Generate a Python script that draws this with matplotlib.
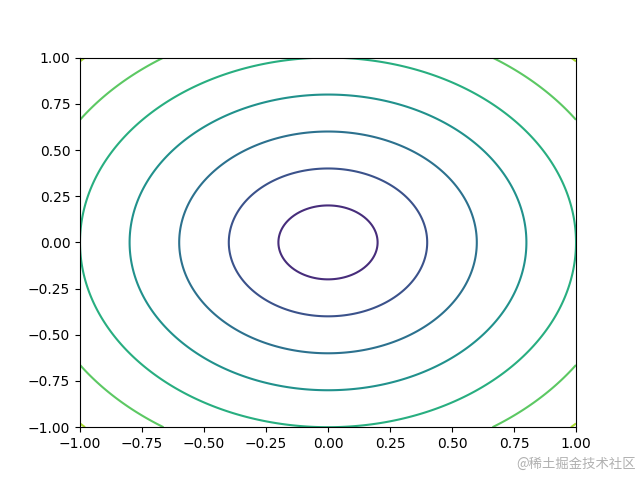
import numpy as np
import matplotlib
matplotlib.use('Agg')
import matplotlib.pyplot as plt

# grid and contour levels
x = np.linspace(-1, 1, 200)
y = np.linspace(-1, 1, 200)
levels = [0.0, 0.2, 0.4, 0.6, 0.8, 1.0, 1.2, 1.4, 1.6]

X, Y = np.meshgrid(x, y)
Z = np.sqrt(X ** 2 + Y ** 2)

fig, ax = plt.subplots(figsize=(6.4, 4.8), dpi=100)
ax.contour(X, Y, Z, levels=levels, cmap='viridis')

fig.text(0.994, 0.02, '@稀土掘金技术社区', ha='right', va='bottom',
         fontsize=9.6, color='#b0b0b0', family=['Noto Sans CJK SC', 'DejaVu Sans'])

plt.savefig('out.png')
